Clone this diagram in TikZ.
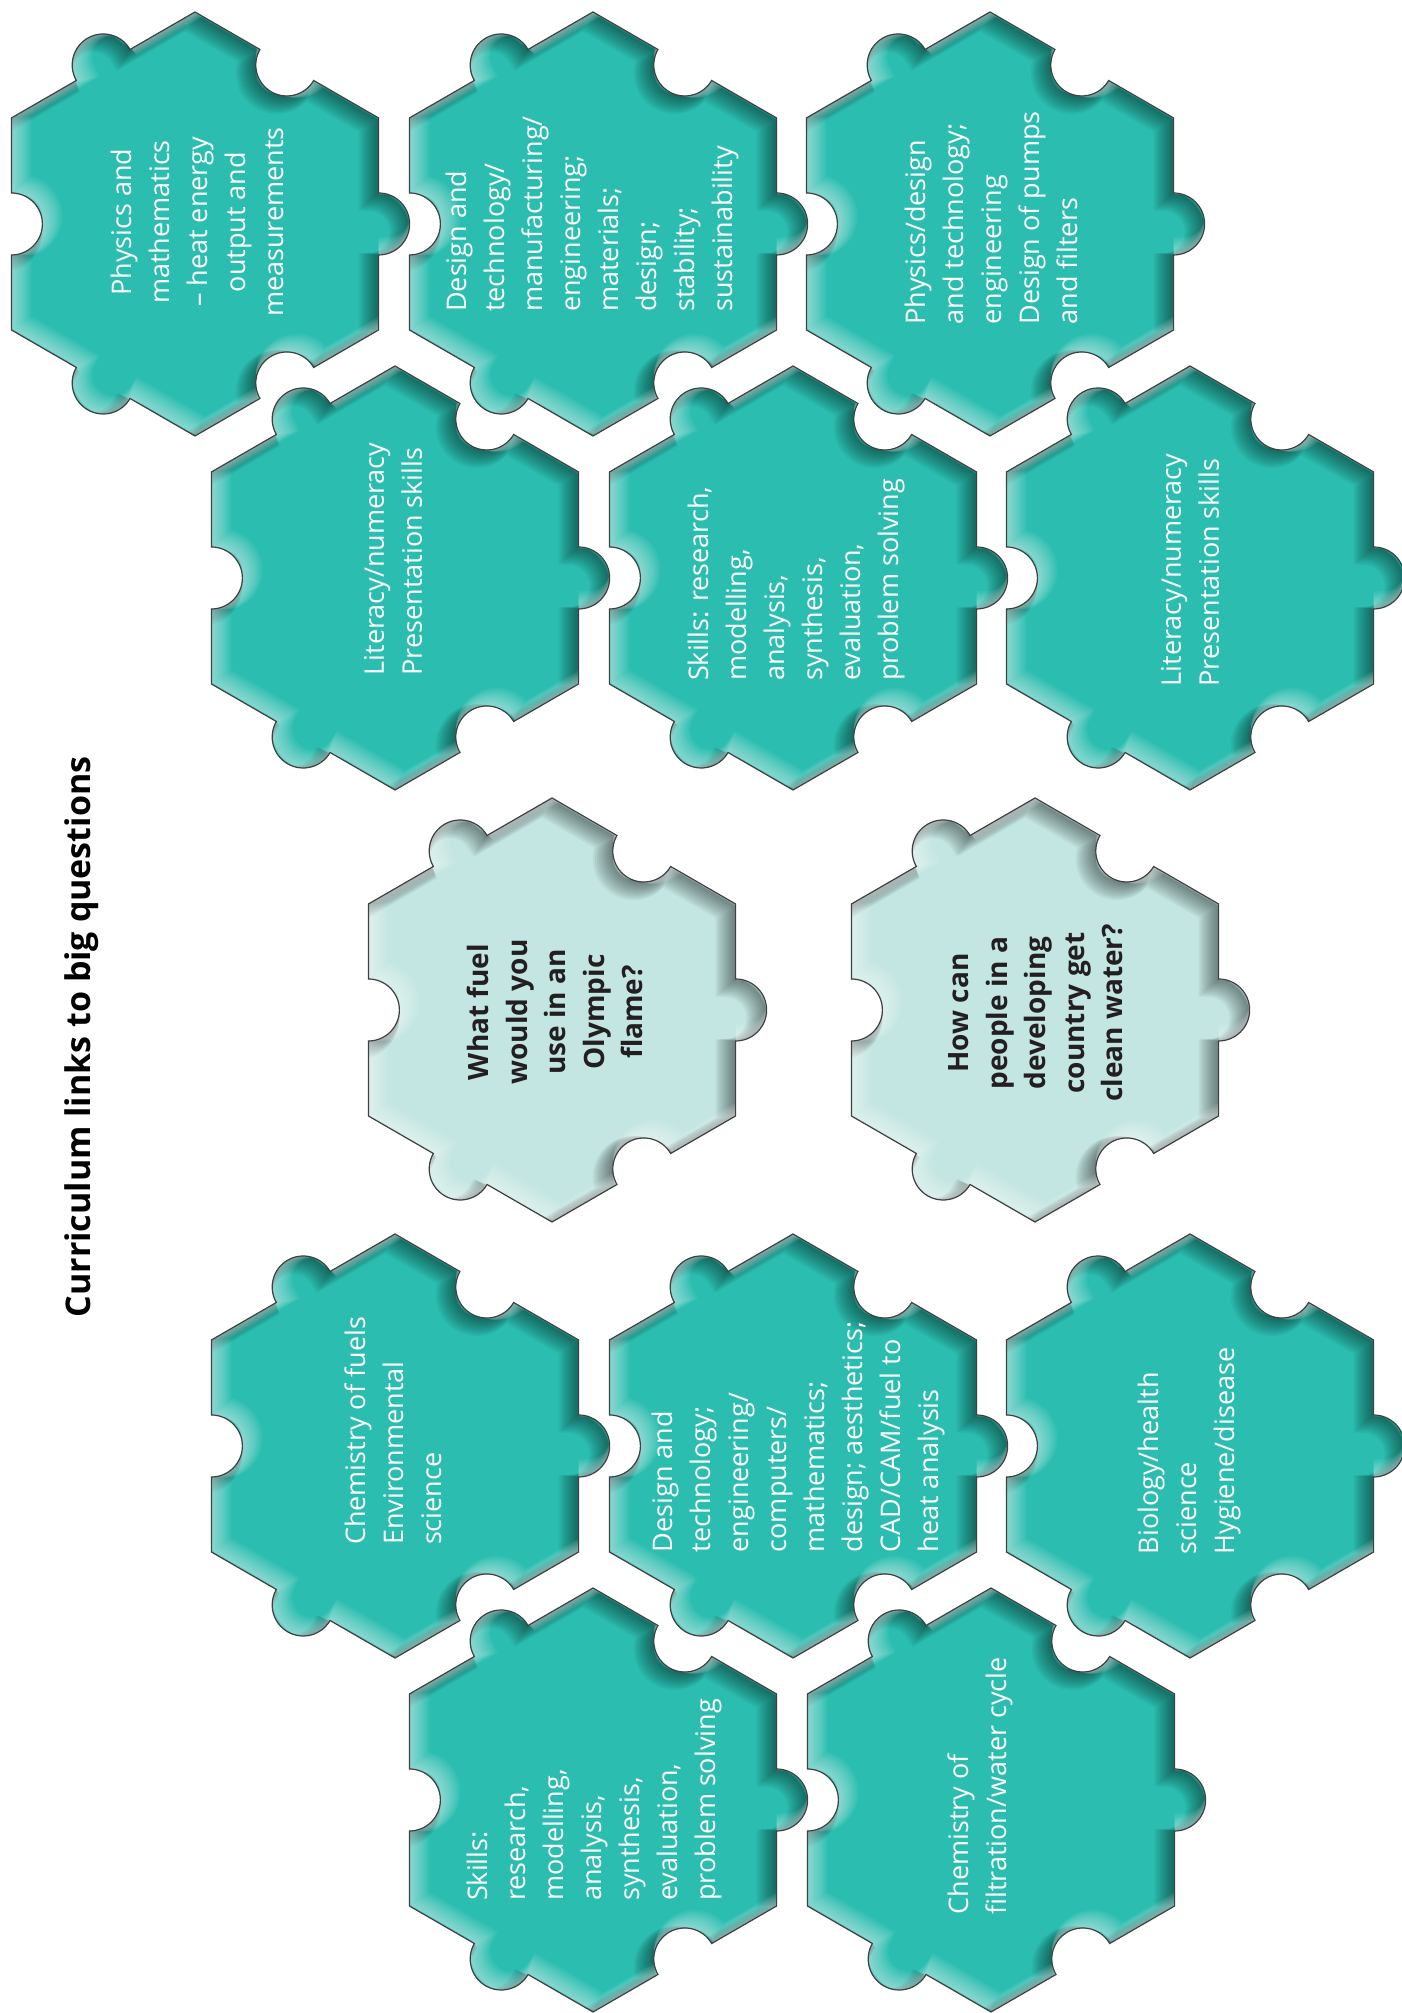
\documentclass[tikz,border=0pt]{standalone}
\usepackage{fontspec}
\setmainfont{Open Sans}
\definecolor{puzzleteal}{RGB}{43,190,176}
\definecolor{puzzlemint}{RGB}{195,230,226}
\definecolor{questtext}{RGB}{35,31,32}

\newcommand{\piecepath}{(0,212) -- (64.95,174.5) arc[start angle=150,end angle=330,radius=31pt]
  -- (183.6,106) -- (183.6,31) arc[start angle=90,end angle=-90,radius=31pt]
  -- (183.6,-106) -- (118.65,-143.5) arc[start angle=30,end angle=210,radius=31pt]
  -- (0,-212) -- (-64.95,-174.5) arc[start angle=330,end angle=150,radius=31pt]
  -- (-183.6,-106) -- (-183.6,-31) arc[start angle=270,end angle=450,radius=31pt]
  -- (-183.6,106) -- (-118.65,143.5) arc[start angle=210,end angle=30,radius=31pt] -- cycle}

\tikzset{
  pics/piece/.style={code={
    \begin{scope}
      \clip \piecepath;
      \fill[#1] \piecepath;
      \foreach \s in {10,9,...,1}
        \draw[black,opacity=0.05,line width=2*\s pt,shift={(-\s,-0.8*\s)}] \piecepath;
      \foreach \s in {10,9,...,1}
        \draw[white,opacity=0.06,line width=2*\s pt,shift={(\s,0.8*\s)}] \piecepath;
    \end{scope}
    \draw[gray!50!black,line width=1.2pt] \piecepath;
  }}
}

\begin{document}
\begin{tikzpicture}[x=1pt,y=1pt,
    body/.style={rotate=90,text=white,align=left,font=\fontsize{27}{38}\selectfont},
    question/.style={rotate=90,text=questtext,align=center,font=\fontsize{28}{38.5}\selectfont\bfseries}]
\useasboundingbox (0,0) rectangle (1401,2013);

\pic at (195,1789) {piece=puzzleteal};
\pic at (593,1789) {piece=puzzleteal};
\pic at (990,1789) {piece=puzzleteal};
\pic at (395,1435) {piece=puzzleteal};
\pic at (793,1435) {piece=puzzleteal};
\pic at (1190,1435) {piece=puzzleteal};
\pic at (552,1003) {piece=puzzlemint};
\pic at (1035,1003) {piece=puzzlemint};
\pic at (395,567) {piece=puzzleteal};
\pic at (793,567) {piece=puzzleteal};
\pic at (1190,567) {piece=puzzleteal};
\pic at (593,213) {piece=puzzleteal};
\pic at (991,213) {piece=puzzleteal};

\node[rotate=90,font=\fontsize{34}{40}\selectfont\bfseries] (title) at (82,976) {Curriculum links to big questions};

\node[body,align=center] (physmath) at (197,1791) {Physics and\\mathematics\\– heat energy\\output and\\measurements};
\node[body] (designman) at (592,1799) {Design and\\technology/\\manufacturing/\\engineering;\\materials;\\design;\\stability;\\sustainability};
\node[body] (physdesign) at (991,1795) {Physics/design\\and technology;\\engineering\\Design of pumps\\and filters};
\node[body] (literacyA) at (393,1454) {Literacy/numeracy\\Presentation skills};
\node[body] (skillsA) at (796,1433) {Skills: research,\\modelling,\\analysis,\\synthesis,\\evaluation,\\problem solving};
\node[body] (literacyB) at (1190,1443) {Literacy/numeracy\\Presentation skills};

\node[question] (fuelq) at (555,1001) {What fuel\\would you\\use in an\\Olympic\\flame?};
\node[question] (waterq) at (1036,1000) {How can\\people in a\\developing\\country get\\clean water?};

\node[body] (chemfuels) at (393,582) {Chemistry of fuels\\Environmental\\science};
\node[body] (designcad) at (798,576) {Design and\\technology;\\engineering/\\computers/\\mathematics;\\design; aesthetics;\\CAD/CAM/fuel to\\heat analysis};
\node[body] (biology) at (1189,562) {Biology/health\\science\\Hygiene/disease};
\node[body] (skillsB) at (594,213) {Skills:\\research,\\modelling,\\analysis,\\synthesis,\\evaluation,\\problem solving};
\node[body] (chemfilter) at (980,227) {Chemistry of\\filtration/water cycle};
\end{tikzpicture}
\end{document}
